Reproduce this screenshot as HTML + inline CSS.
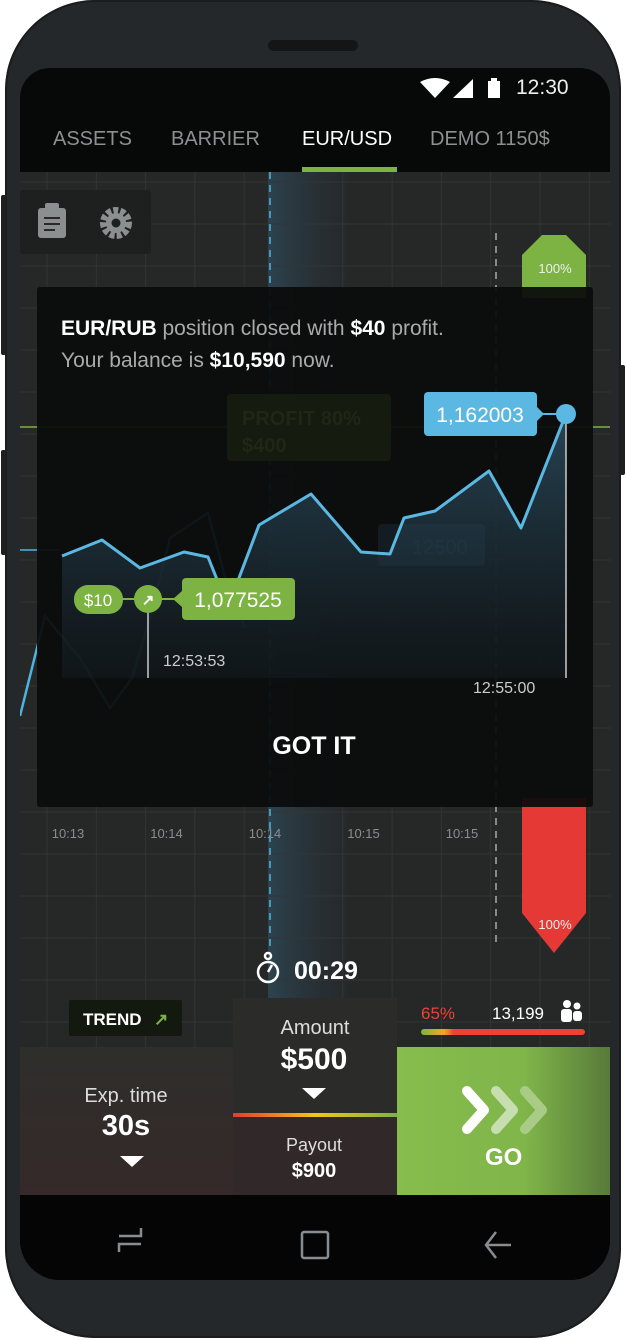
<!DOCTYPE html>
<html><head><meta charset="utf-8"><style>
*{margin:0;padding:0;box-sizing:border-box}
body{width:626px;height:1340px;background:#fff;position:relative;overflow:hidden;font-family:"Liberation Sans",sans-serif}
.abs{position:absolute}
.t{position:absolute;white-space:nowrap}
</style></head><body>
<div class="abs" style="left:5px;top:0;width:616px;height:1338px;border-radius:90px;background:#24282a;box-shadow:inset 0 0 0 2px #1a1c1d"></div>
<div class="abs" style="left:1px;top:195px;width:5px;height:160px;background:#1d1f20;border-radius:2px"></div>
<div class="abs" style="left:1px;top:450px;width:5px;height:105px;background:#1d1f20;border-radius:2px"></div>
<div class="abs" style="left:620px;top:365px;width:5px;height:110px;background:#1d1f20;border-radius:2px"></div>
<div class="abs" style="left:268px;top:40px;width:90px;height:11px;border-radius:6px;background:#141516"></div>
<div class="abs" style="left:20px;top:68px;width:590px;height:1212px;border-radius:30px 30px 40px 40px;background:#070808;overflow:hidden">
<svg width="590" height="1212" style="position:absolute;left:0;top:0" id="scr">
<defs>
<linearGradient id="fillg" x1="0" y1="0" x2="0" y2="1"><stop offset="0" stop-color="#2b4a5c" stop-opacity=".9"/><stop offset="1" stop-color="#1a2a33" stop-opacity=".3"/></linearGradient>
<linearGradient id="band" x1="0" y1="0" x2="1" y2="0"><stop offset="0" stop-color="#2e4a5a"/><stop offset="1" stop-color="#263038" stop-opacity=".3"/></linearGradient>
<linearGradient id="gog" x1="0" y1="0" x2="1" y2="0"><stop offset="0" stop-color="#86bd4d"/><stop offset=".6" stop-color="#80b54a"/><stop offset="1" stop-color="#587a3a"/></linearGradient>
<linearGradient id="leftg" x1="0" y1="0" x2="0" y2="1"><stop offset="0" stop-color="#2e2e2b"/><stop offset="1" stop-color="#35292a"/></linearGradient>
<linearGradient id="pbar" x1="0" y1="0" x2="1" y2="0"><stop offset="0" stop-color="#e53935"/><stop offset=".5" stop-color="#f5c518"/><stop offset="1" stop-color="#7cb342"/></linearGradient>
<linearGradient id="vbar" x1="0" y1="0" x2="1" y2="0"><stop offset="0" stop-color="#7cb342"/><stop offset=".14" stop-color="#f5a623"/><stop offset=".2" stop-color="#ef4136"/><stop offset="1" stop-color="#ef4136"/></linearGradient>
</defs>
<rect x="0" y="104" width="590" height="875" fill="#262727"/>
<rect x="248" y="104" width="80" height="870" fill="url(#band)" opacity=".8"/>
<g id="grid" stroke="#333535" stroke-width="1"></g>
<line x1="250" y1="104" x2="250" y2="885" stroke="#4fb3e0" stroke-width="1.5" stroke-dasharray="7,6"/>
<line x1="476" y1="165" x2="476" y2="880" stroke="#aaa" stroke-width="1.5" stroke-dasharray="7,6"/>
<polyline points="0,648 25,548 60,590 90,640 112,610 130,550 150,470 188,445 208,520 225,560" fill="none" stroke="#4fb3e0" stroke-width="2.5"/>
<line x1="0" y1="359" x2="590" y2="359" stroke="#7cb342" stroke-width="1.5"/>
<line x1="0" y1="482" x2="40" y2="482" stroke="#4fb3e0" stroke-width="1.5"/>
<polygon points="502,187 522,167 546,167 566,187 566,230 502,230" fill="#7cb342"/>
<text x="535" y="205" fill="#eee" font-size="13" text-anchor="middle">100%</text>
<polygon points="502,730 566,730 566,845 534,885 502,845" fill="#e53935"/>
<text x="535" y="861" fill="#eee" font-size="13" text-anchor="middle">100%</text>
<g id="xt" fill="#8a8d8f" font-size="13"></g>
<rect x="0" y="122" width="131" height="64" rx="3" fill="#1e1f1f"/>
<rect x="18" y="140" width="28" height="30" rx="3" fill="#8c8f90"/>
<rect x="25" y="135" width="14" height="7" rx="2" fill="#8c8f90"/>
<g stroke="#2a2a2a" stroke-width="2"><line x1="24" y1="150" x2="40" y2="150"/><line x1="24" y1="156" x2="40" y2="156"/><line x1="24" y1="162" x2="35" y2="162"/></g>
<g transform="translate(96,155)"><circle r="12" fill="none" stroke="#8c8f90" stroke-width="8" stroke-dasharray="4.7,2"/><circle r="10" fill="#8c8f90"/><circle r="4.5" fill="#1e1f1f"/></g>
<rect x="17" y="219" width="556" height="520" rx="3" fill="#0b0c0c" fill-opacity=".94"/>
<rect x="207" y="326" width="164" height="67" rx="4" fill="#151b0f"/>
<text x="222" y="357" fill="#1f2717" font-size="20" font-weight="bold">PROFIT 80%</text>
<text x="222" y="384" fill="#1f2717" font-size="20" font-weight="bold">$400</text>
<rect x="358" y="456" width="107" height="42" rx="4" fill="#131c22"/>
<text x="392" y="486" fill="#1b2a33" font-size="20">12500</text>
<g id="mini"></g>
<text x="143" y="598" fill="#ccc" font-size="16">12:53:53</text>
<text x="453" y="625" fill="#ccc" font-size="16">12:55:00</text>
<text x="294" y="686" fill="#fff" font-size="25" font-weight="bold" text-anchor="middle">GOT IT</text>
<text x="274" y="911" fill="#fff" font-size="25" font-weight="bold">00:29</text>
<g fill="none" stroke="#fff" stroke-width="2.5"><circle cx="248" cy="904" r="10"/><circle cx="248" cy="888" r="3"/><line x1="248" y1="904" x2="252" y2="897"/></g>
<rect x="49" y="932" width="113" height="36" rx="2" fill="#141910"/>
<text x="63" y="957" fill="#fff" font-size="17" font-weight="bold">TREND</text>
<text x="134" y="957" fill="#7cb342" font-size="17" font-weight="bold">↗</text>
<text x="401" y="951" fill="#ef4136" font-size="17">65%</text>
<text x="472" y="951" fill="#fff" font-size="17">13,199</text>
<g fill="#fff"><circle cx="547" cy="936" r="4"/><circle cx="557" cy="938" r="3.5"/><rect x="541" y="941" width="11" height="13" rx="3"/><rect x="553" y="943" width="9" height="10" rx="3"/></g>
<rect x="401" y="961" width="164" height="6" rx="3" fill="url(#vbar)"/>
<rect x="0" y="979" width="213" height="148" fill="url(#leftg)"/>
<text x="106" y="1034" fill="#ddd" font-size="20" text-anchor="middle">Exp. time</text>
<text x="106" y="1067" fill="#fff" font-size="29" font-weight="bold" text-anchor="middle">30s</text>
<polygon points="100,1088 124,1088 112,1099" fill="#fff"/>
<rect x="213" y="930" width="164" height="117" fill="#2b2c29"/>
<text x="295" y="966" fill="#ddd" font-size="20" text-anchor="middle">Amount</text>
<text x="294" y="1001" fill="#fff" font-size="30" font-weight="bold" text-anchor="middle">$500</text>
<polygon points="282,1020 306,1020 294,1031" fill="#fff"/>
<rect x="213" y="1045" width="164" height="4" fill="url(#pbar)"/>
<rect x="213" y="1049" width="164" height="78" fill="#312929"/>
<text x="294" y="1083" fill="#ddd" font-size="18" text-anchor="middle">Payout</text>
<text x="294" y="1109" fill="#fff" font-size="20" font-weight="bold" text-anchor="middle">$900</text>
<rect x="377" y="979" width="213" height="148" fill="url(#gog)"/>
<g fill="none" stroke-linecap="round" stroke-linejoin="round" stroke-width="10">
<polyline points="505,1023 522,1042 505,1061" stroke="#a8cc85"/>
<polyline points="476,1023 493,1042 476,1061" stroke="#c6deb0"/>
<polyline points="447,1023 464,1042 447,1061" stroke="#fff"/>
</g>
<rect x="0" y="1127" width="590" height="85" fill="#050505"/>
<g stroke="#8a8d8f" stroke-width="2.5" fill="none">
<polyline points="99,1184 99,1176 121,1176"/><polyline points="99,1168 121,1168 121,1160"/>
<rect x="282" y="1164" width="26" height="26" rx="2"/>
<polyline points="476,1164 466,1177 476,1190"/><line x1="466" y1="1177" x2="491" y2="1177"/>
</g>
</svg>
<div class="t" style="left:465px;top:1076px;color:#fff;font-size:24px;font-weight:bold">GO</div>
<div class="t" style="left:496px;top:8px;color:#eee;font-size:21px">12:30</div>
<svg class="abs" style="left:398px;top:10px" width="90" height="22"><path d="M2,4 Q17,-4 32,4 L17,20 Z" fill="#fff"/><polygon points="35,20 55,20 55,1" fill="#fff"/><rect x="70" y="3" width="12" height="17" fill="#fff"/><rect x="73" y="0" width="6" height="4" fill="#fff"/></svg>
<div class="t" style="left:33px;top:60px;color:#8e8f90;font-size:20px">ASSETS</div>
<div class="t" style="left:151px;top:60px;color:#8e8f90;font-size:20px">BARRIER</div>
<div class="t" style="left:282px;top:60px;color:#fff;font-size:20px">EUR/USD</div>
<div class="abs" style="left:282px;top:99px;width:95px;height:5px;background:#7cb342"></div>
<div class="t" style="left:410px;top:60px;color:#8e8f90;font-size:20px">DEMO 1150$</div>
<div class="t" style="left:41px;top:245px;color:#aaa;font-size:21px;line-height:32px"><b style="color:#fff">EUR/RUB</b> position closed with <b style="color:#fff">$40</b> profit.<br>Your balance is <b style="color:#fff">$10,590</b> now.</div>
</div>
<script>
const NS='http://www.w3.org/2000/svg';
const OX=20,OY=68;
const times=[0,1,2,3,4,5,6,7,8,9,10,11,12,13,14];
const prices=[1.091,1.099,1.085,1.093,1.0905,1.0655,1.1065,1.122,1.093,1.092,1.11,1.1135,1.1335,1.105,1.162];
const timeX=[62,102,140,184,208,228,259,311,361,390,404,435,489,521,566];
const xTickLabels=['10:13','10:14','10:14','10:15','10:15'];
const entryPrice='1,077525';
const lastPrice='1,162003';
function yS(v){return 414+(1.162-v)*2000-OY;}
function xS(i){return timeX[i]-OX;}
const grid=document.getElementById('grid');
for(let x=27;x<590;x+=49.3){const l=document.createElementNS(NS,'line');l.setAttribute('x1',x);l.setAttribute('x2',x);l.setAttribute('y1',104);l.setAttribute('y2',979);grid.appendChild(l);}
for(let y=114;y<979;y+=42){const l=document.createElementNS(NS,'line');l.setAttribute('x1',0);l.setAttribute('x2',590);l.setAttribute('y1',y);l.setAttribute('y2',y);grid.appendChild(l);}
const xt=document.getElementById('xt');
xTickLabels.forEach((s,i)=>{const t=document.createElementNS(NS,'text');


t.setAttribute('x',48+i*98.5);t.setAttribute('y',770);t.setAttribute('text-anchor','middle');t.textContent=s;xt.appendChild(t);});
const mini=document.getElementById('mini');
const pts=prices.map((v,i)=>xS(i)+','+yS(v)).join(' ');
const area=document.createElementNS(NS,'polygon');


area.setAttribute('points',pts+' '+xS(times.length-1)+',610 '+xS(0)+',610');area.setAttribute('fill','url(#fillg)');mini.appendChild(area);
const line=document.createElementNS(NS,'polyline');


line.setAttribute('points',pts);line.setAttribute('fill','none');line.setAttribute('stroke','#5bb8e2');line.setAttribute('stroke-width','3');line.setAttribute('stroke-linejoin','round');mini.appendChild(line);
const lx=xS(times.length-1),ly=yS(prices[prices.length-1]);
mini.insertAdjacentHTML('beforeend',
`<line x1="${lx}" y1="${ly}" x2="${lx}" y2="610" stroke="#ccc" stroke-width="1.5"/>
<line x1="500" y1="${ly}" x2="${lx}" y2="${ly}" stroke="#5bb8e2" stroke-width="2"/>
<circle cx="${lx}" cy="${ly}" r="10" fill="#5bb8e2"/>
<rect x="404" y="${ly-22}" width="113" height="44" rx="4" fill="#5bb8e2"/><polygon points="516,${ly-8} 524,${ly} 516,${ly+8}" fill="#5bb8e2"/>
<text x="460" y="${ly+8}" fill="#fff" font-size="21" text-anchor="middle">${lastPrice}</text>
<line x1="128" y1="530" x2="128" y2="610" stroke="#ccc" stroke-width="1.5"/>
<line x1="85" y1="531" x2="165" y2="531" stroke="#7cb342" stroke-width="2"/>
<rect x="54" y="517" width="49" height="29" rx="14" fill="#7cb342"/><text x="78" y="538" fill="#fff" font-size="17" text-anchor="middle">$10</text>
<circle cx="128" cy="531" r="14" fill="#7cb342"/><text x="128" y="537" fill="#fff" font-size="15" text-anchor="middle" font-weight="bold">↗</text>
<rect x="162" y="510" width="113" height="42" rx="4" fill="#7cb342"/><polygon points="162,523 153,531 162,539" fill="#7cb342"/>
<text x="218" y="539" fill="#fff" font-size="21" text-anchor="middle">${entryPrice}</text>`);
</script>
</body></html>
